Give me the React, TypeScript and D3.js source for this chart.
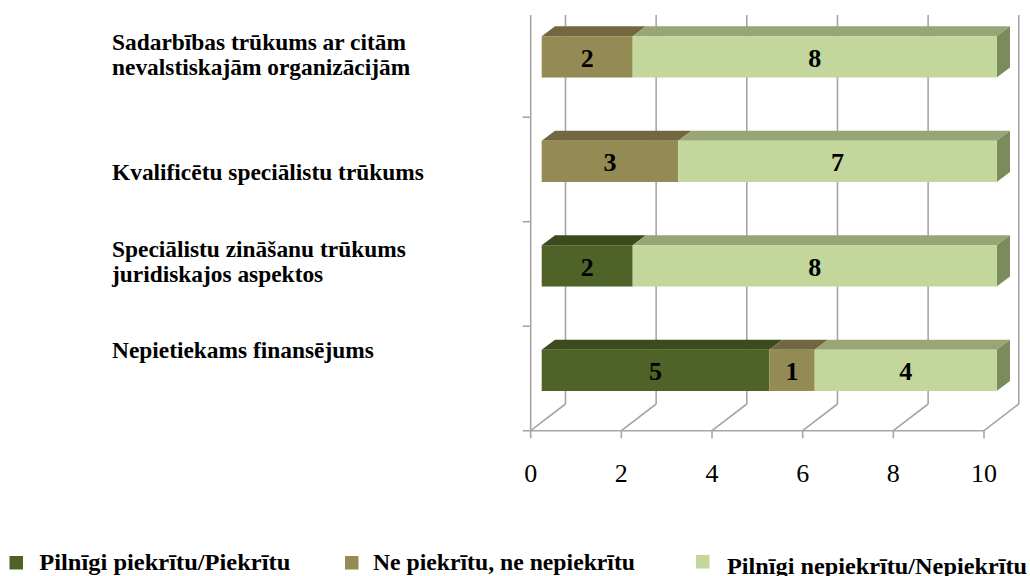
import React from "react";
import * as d3 from "d3";

const categories: string[][] = [
  ["Sadarbības trūkums ar citām", "nevalstiskajām organizācijām"],
  ["Kvalificētu speciālistu trūkums"],
  ["Speciālistu zināšanu trūkums", "juridiskajos aspektos"],
  ["Nepietiekams finansējums"],
];
const agree: number[] = [0, 0, 2, 5];
const neutral: number[] = [2, 3, 0, 1];
const disagree: number[] = [8, 7, 8, 4];
const seriesNames: string[] = [
  "Pilnīgi piekrītu/Piekrītu",
  "Ne piekrītu, ne nepiekrītu",
  "Pilnīgi nepiekrītu/Nepiekrītu",
];
const xTicks: number[] = [0, 2, 4, 6, 8, 10];

// layout
const W = 1030, H = 576;
const frontX = d3.scaleLinear().domain([0, 10]).range([530.7, 984]);
const barX = d3.scaleLinear().domain([0, 10]).range([541.7, 996.7]);
const floorY = 430.7;
const topY = 15;
const depthDX = 34.8, depthDY = 26.7;
const barDX = 13.3, barDY = 10;
const yBand = d3.scaleBand<number>().domain([0, 1, 2, 3]).range([12.7, 430.7]);
const barOffset = 23.5, barH = 41.3;
const labelOffset = [37.5, 62.8, 35, 32]; // first-line baseline below band top
const lineGap = 25;

const front = ["#4F6228", "#948A54", "#C3D69B"];
const topC = ["#3C4B1E", "#72683F", "#97A577"];
const sideC = ["#3A481C", "#6B633C", "#7B8B5C"];
const grid = "#A6A6A6";
const serif = "'Liberation Serif', 'Times New Roman', serif";

const legendLayout = [
  { sx: 9.5, sy: 556, tx: 39.3, ty: 570, len: 251 },
  { sx: 345, sy: 556, tx: 373, ty: 570, len: 262 },
  { sx: 696, sy: 555, tx: 727, ty: 573.5, len: 300 },
];

export default function App() {
  const series = [agree, neutral, disagree];
  const bars: JSX.Element[] = [];
  categories.forEach((_, i) => {
    const y0 = (yBand(i) as number) + barOffset;
    let acc = 0;
    const segs: { s: number; a: number; b: number }[] = [];
    series.forEach((arr, s) => {
      const v = arr[i];
      if (v > 0) segs.push({ s, a: acc, b: acc + v });
      acc += v;
    });
    segs.forEach((g, k) => {
      const xa = barX(g.a), xb = barX(g.b);
      bars.push(
        <g key={`b${i}-${k}`}>
          <polygon
            points={`${xa},${y0} ${xb},${y0} ${xb + barDX},${y0 - barDY} ${xa + barDX},${y0 - barDY}`}
            fill={topC[g.s]}
          />
          {k === segs.length - 1 && (
            <polygon
              points={`${xb},${y0} ${xb + barDX},${y0 - barDY} ${xb + barDX},${y0 + barH - barDY} ${xb},${y0 + barH}`}
              fill={sideC[g.s]}
            />
          )}
          <rect x={xa} y={y0} width={xb - xa} height={barH} fill={front[g.s]} />
          <text
            x={(xa + xb) / 2}
            y={y0 + barH / 2 + 10}
            textAnchor="middle"
            fontFamily={serif}
            fontWeight="bold"
            fontSize={26}
            fill="#000"
          >
            {series[g.s][i]}
          </text>
        </g>
      );
    });
  });

  return (
    <svg width={W} height={H} style={{ position: "absolute", left: 0, top: 0, background: "#fff" }}>
      {xTicks.map((t) => (
        <line key={`bg${t}`} x1={frontX(t) + depthDX} x2={frontX(t) + depthDX} y1={topY} y2={floorY - depthDY} stroke={grid} strokeWidth={1.6} />
      ))}
      {xTicks.map((t) => (
        <line key={`fd${t}`} x1={frontX(t)} y1={floorY} x2={frontX(t) + depthDX} y2={floorY - depthDY} stroke={grid} strokeWidth={1.6} />
      ))}
      <line x1={frontX(0) - 8} x2={frontX(10)} y1={floorY} y2={floorY} stroke={grid} strokeWidth={1.6} />
      {xTicks.map((t) => (
        <line key={`ft${t}`} x1={frontX(t)} x2={frontX(t)} y1={floorY} y2={floorY + 7.5} stroke={grid} strokeWidth={1.6} />
      ))}
      <line x1={frontX(0)} x2={frontX(0)} y1={topY} y2={floorY} stroke={grid} strokeWidth={1.6} />
      {[1, 2, 3].map((k) => {
        const y = (yBand(k) as number);
        return <line key={`lt${k}`} x1={frontX(0) - 8} x2={frontX(0)} y1={y} y2={y} stroke={grid} strokeWidth={1.6} />;
      })}
      {bars}
      {xTicks.map((t) => (
        <text key={`xl${t}`} x={frontX(t)} y={482} textAnchor="middle" fontFamily={serif} fontSize={26} fill="#000">
          {t}
        </text>
      ))}
      {categories.map((lines, i) => {
        const y = (yBand(i) as number) + labelOffset[i];
        return (
          <text key={`cl${i}`} x={112} y={y} fontFamily={serif} fontWeight="bold" fontSize={23.4} fill="#000">
            {lines.map((l, j) => (
              <tspan key={j} x={112} dy={j === 0 ? 0 : lineGap}>
                {l}
              </tspan>
            ))}
          </text>
        );
      })}
      {seriesNames.map((n, s) => {
        const L = legendLayout[s];
        return (
          <g key={`lg${s}`}>
            <rect x={L.sx} y={L.sy} width={13.5} height={13.5} fill={front[s]} />
            <text x={L.tx} y={L.ty} fontFamily={serif} fontWeight="bold" fontSize={23} textLength={L.len} lengthAdjust="spacingAndGlyphs" fill="#000">
              {n}
            </text>
          </g>
        );
      })}
    </svg>
  );
}
